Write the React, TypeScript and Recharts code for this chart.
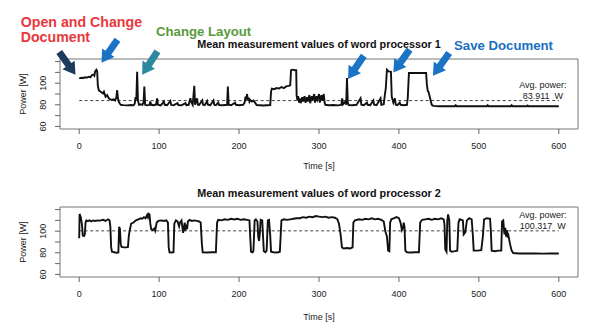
import React from "react";
import {
  LineChart,
  Line,
  XAxis,
  YAxis,
  ReferenceLine,
  ReferenceArea,
  ReferenceDot,
} from "recharts";

const FONT = '"Liberation Sans", Arial, Helvetica, sans-serif';

const xTicks = [0, 100, 200, 300, 400, 500, 600];
const yTicks = [60, 70, 80, 90, 100, 110, 120];
const yLabelled = [60, 80, 100];

// word processor 1
const wp1Time = [
  0, 3, 5, 8, 10, 12, 14, 16, 18, 19,
  20, 21.5, 22.5, 23.3, 24.5, 26, 28, 30, 31, 33,
  35, 37, 39, 41, 43, 45, 46.5, 47.5, 48.5, 49.5,
  51, 52, 55, 60, 65, 68, 69.5, 70.5, 71.5, 72.5,
  73.5, 74.8, 77, 79, 80.5, 81.5, 82.5, 85, 88, 89,
  90, 93, 96, 97.5, 98.5, 102, 106, 107, 110, 114,
  115, 118, 123, 124, 128, 133, 134, 137, 139, 140,
  142, 144, 145, 147.5, 148.5, 150, 154, 155, 157, 160,
  161, 164, 168, 169, 171, 174, 175, 180, 185, 186,
  187, 190, 195, 196, 200, 205, 207, 208, 209, 210,
  211, 212, 213, 214, 216, 218, 220, 222, 226, 230,
  235, 239, 240, 241, 244, 247, 250, 253, 256, 259,
  262, 264, 265, 267, 270, 271.5, 272, 273, 274, 275,
  276, 277, 279, 280, 282, 283, 285, 286, 288, 289,
  291, 292, 294, 295, 297, 298, 300, 301, 303, 304,
  306, 307, 308, 312, 318, 324, 328, 329, 330, 333,
  334, 335, 336, 337, 342, 347, 352, 353, 356, 360,
  361, 364, 368, 369, 372, 377, 378, 381, 382.5, 383.5,
  385, 387, 390, 391, 393, 395, 396, 398, 401, 402,
  406, 410, 411, 412.5, 420, 428, 434, 435, 436, 437,
  439, 441, 443, 450, 470, 471, 472, 510, 511, 512,
  540, 541, 542, 560, 561, 562, 600,
];
const wp1Power = [
  104.5, 105, 104.8, 105.5, 105.2, 106, 105.5, 107.5, 108, 107,
  111, 112.5, 111, 98, 93.5, 92.5, 91.5, 90.5, 92, 87.5,
  89, 86, 85, 84.5, 85, 84, 87, 93.5, 86, 82.8,
  81, 80, 79.7, 79.5, 79.8, 79.5, 81, 87, 85, 110.5,
  84, 80, 80.5, 80, 82, 97, 80, 79.5, 80, 83,
  80, 79.6, 80, 86, 80, 79.5, 83, 80, 79.6, 83.5,
  80, 79.5, 81.5, 79.8, 79.5, 81.5, 79.7, 80, 86, 83,
  80, 97.5, 80, 86, 80, 79.8, 84, 80, 79.6, 83.5,
  80, 79.6, 84, 80, 79.6, 82, 79.8, 79.6, 80, 97,
  80, 79.6, 82, 80, 79.6, 80, 82, 87.5, 85, 90,
  84, 86.5, 83, 84.5, 83, 84, 82, 79.8, 79.6, 79.4,
  79.6, 79.8, 92, 95, 94.5, 95.5, 95, 96.5, 95.5, 97,
  97.5, 98, 112, 112.5, 112, 112, 89, 84, 88, 82,
  86, 81.5, 87, 83, 88, 82, 87, 83, 89, 81.5,
  88, 84, 90, 82, 88, 85, 90, 82, 89, 84,
  90, 82, 80, 79.6, 79.8, 79.5, 80, 86, 80.5, 83,
  80, 104.7, 82, 79.8, 79.6, 80, 86, 80, 79.6, 82,
  80, 79.6, 84, 80, 79.6, 86, 80, 80.5, 90, 95,
  112.5, 111, 110.5, 87.5, 82, 86, 80, 79.6, 82, 80,
  79.6, 80, 86, 109.5, 109.5, 109.4, 109.5, 98.4, 93, 92,
  86, 80, 79, 78.7, 78.7, 79.6, 78.7, 78.7, 79.6, 78.7,
  78.7, 79.6, 78.7, 78.7, 79.4, 78.7, 78.7,
];
const wp1Avg = 83.911;

// word processor 2
const wp2Time = [
  0, 0.5, 2, 3.5, 4.5, 6, 7, 8, 9, 10,
  11, 13, 15, 17, 20, 23, 26, 30, 33, 36,
  38, 39, 40, 41, 44, 47, 49, 50, 51, 52,
  53, 56, 59, 61, 62, 63, 65, 68, 71, 74,
  77, 79, 81, 83, 85, 86, 87, 88, 89, 90,
  92, 94, 95, 97, 99, 103, 106, 109, 111, 112,
  113, 116, 118, 119, 121, 123, 125, 126, 128, 130,
  131, 132, 133, 134, 135, 136, 138, 141, 144, 147,
  150, 152, 153.5, 154.5, 160, 166, 171, 172.5, 174, 178,
  182, 186, 190, 194, 198, 202, 206, 210, 213, 214,
  215, 217, 218, 219.5, 221, 223, 224, 225, 226, 227,
  229, 230, 231, 233, 234.5, 236, 237.5, 239, 240, 243,
  246, 249, 251, 252, 253, 256, 260, 264, 268, 272,
  276, 280, 284, 288, 292, 296, 300, 304, 308, 312,
  316, 320, 323, 325, 327, 328.7, 331, 335, 339, 342,
  343, 345, 350, 354, 358, 362, 366, 370, 374, 378,
  381, 383, 385, 386.5, 388, 389, 390.5, 394, 397, 400,
  402, 403.7, 405, 406, 407, 408, 410, 415, 420, 425,
  426.6, 429, 433, 437, 441, 445, 449, 453, 456, 457,
  458, 459.5, 460.5, 461.5, 463, 464, 466, 470, 473, 474.5,
  476, 480, 481, 483, 485, 488, 491, 492.5, 493.5, 498,
  503, 505, 506.5, 510, 514, 515, 516, 520, 524, 528,
  529, 530.5, 532, 533, 534, 535, 536, 537, 539, 541,
  543, 550, 560, 570, 580, 590, 600,
];
const wp2Power = [
  93.5, 116, 113, 106, 96, 95.5, 97, 108, 110, 109.5,
  109.5, 110, 109, 110, 109.5, 110, 109.8, 110.5, 109.5, 111,
  110, 104, 85, 81, 80.5, 80, 80.3, 104, 102, 88,
  85.5, 85, 85, 85.3, 95, 100, 107, 108, 110, 111,
  112, 111.5, 113, 112, 115, 113, 116, 115.5, 107, 102,
  101, 102.5, 100.5, 108, 109.5, 110, 109.5, 110, 108, 85,
  80.5, 80.3, 80.5, 107, 110, 109, 104.5, 108, 110, 98.5,
  103, 108, 100.5, 106, 102, 109, 110.5, 109.5, 110, 109.5,
  109, 108, 88, 80.5, 80.3, 80.5, 80.5, 108, 110.5, 110,
  111, 110.5, 111.5, 110.8, 111.5, 110.5, 111, 110.5, 110, 94,
  81, 80.5, 82, 110, 111, 109, 95, 91, 98, 110.5,
  110, 95, 81.5, 80.5, 82, 110, 110.5, 96, 81, 80.5,
  80.3, 80.5, 81, 95, 110, 111, 110.5, 111, 111.5, 112,
  112, 113, 112.5, 113.5, 113, 114, 113.5, 113, 113.5, 112.5,
  113, 112.5, 111, 107, 97, 85, 84, 84.5, 84, 85,
  108, 110, 111, 110.5, 111.5, 111, 112, 111, 111.5, 110.5,
  109, 100, 95, 82, 81.5, 108, 111, 112, 113, 112,
  108, 101, 103, 108, 104, 82, 80.5, 80.3, 80.5, 80.5,
  108, 110.5, 111, 111.5, 110.5, 111.5, 111, 112, 111, 106,
  83, 81, 110, 115.5, 110, 82, 81, 81.5, 82, 108,
  111, 110, 97, 99, 110, 112, 111, 96, 82, 82,
  82.5, 95, 111, 112, 111.5, 100, 82, 81.5, 82, 82,
  109, 110, 97, 103, 95, 101, 94, 96, 88, 82,
  79.8, 79.3, 79.3, 79.4, 79.2, 79.3, 79.3,
];
const wp2Avg = 100.317;

// annotation arrows on the first plot (tip in data units, tail direction in px)
const arrows = [
  { t: -4.6, w: 107.8, dx: -15, dy: -21, color: "#1d3a5f" },
  { t: 27.9, w: 119, dx: 16, dy: -23, color: "#1a73c4" },
  { t: 78.8, w: 107.8, dx: 15, dy: -23, color: "#2b8a9f" },
  { t: 336.3, w: 104, dx: 15, dy: -22, color: "#1a73c4" },
  { t: 393, w: 110, dx: 15, dy: -21, color: "#1a73c4" },
  { t: 442.5, w: 106.9, dx: 15, dy: -21, color: "#1a73c4" },
];

const BlockArrow = ({ cx, cy, color, dx, dy }) => {
  const len = Math.hypot(dx, dy);
  const ux = dx / len;
  const uy = dy / len;
  const px = -uy;
  const py = ux;
  const L = 28;
  const h = 12;
  const hw = 7.5;
  const sw = 3.5;
  const pt = (a, b) => `${cx + ux * a + px * b},${cy + uy * a + py * b}`;
  const points = [pt(0, 0), pt(h, hw), pt(h, sw), pt(L, sw), pt(L, -sw), pt(h, -sw), pt(h, -hw)].join(" ");
  return <polygon points={points} fill={color} />;
};

const YTick = ({ x, y, payload }) => {
  if (!yLabelled.includes(payload.value)) return <g />;
  const bx = x - 6.5;
  return (
    <text
      x={bx}
      y={y}
      transform={`rotate(-90 ${bx} ${y})`}
      textAnchor="middle"
      fontSize={9}
      fontFamily={FONT}
      fill="#222"
    >
      {payload.value}
    </text>
  );
};

const AvgLabel = ({ cx, cy, avg }) => (
  <g fontFamily={FONT} fontSize={9} fill="#222">
    <text x={cx} y={cy - 13} textAnchor="middle">
      Avg. power:
    </text>
    <text x={cx} y={cy - 2} textAnchor="middle" style={{ whiteSpace: "pre" }}>
      {`${avg}  W`}
    </text>
  </g>
);

const Panel = ({ top, times, power, avg, title, titleY, timeY, children }) => {
  const data = times.map((t, i) => ({ t, p: power[i] }));
  return (
    <div style={{ position: "absolute", left: 0, top, width: 600, height: 175 }}>
      <LineChart
        width={600}
        height={170}
        data={data}
        margin={{ top: 59, right: 22, left: 0, bottom: 0 }}
      >
        <XAxis
          dataKey="t"
          type="number"
          domain={[-24, 624]}
          ticks={xTicks}
          interval={0}
          axisLine={false}
          tickLine={{ stroke: "#666" }}
          tickSize={5}
          tickMargin={9}
          height={41}
          tick={{ fontSize: 9, fill: "#222", fontFamily: FONT }}
        />
        <YAxis
          type="number"
          domain={[57.6, 122.4]}
          ticks={yTicks}
          interval={0}
          axisLine={false}
          tickLine={{ stroke: "#666" }}
          tickSize={5}
          width={60}
          tick={(p) => <YTick {...p} />}
        />
        <ReferenceArea
          x1={-24}
          x2={624}
          y1={57.6}
          y2={122.4}
          fill="none"
          stroke="#777"
          strokeWidth={1}
          ifOverflow="visible"
        />
        <ReferenceLine
          segment={[
            { x: 0, y: avg },
            { x: 600, y: avg },
          ]}
          stroke="#444"
          strokeDasharray="3 2.5"
        />
        <Line
          type="linear"
          dataKey="p"
          stroke="#111"
          strokeWidth={1.9}
          dot={false}
          isAnimationActive={false}
        />
        <ReferenceDot x={580} y={avg} r={0} shape={(p) => <AvgLabel cx={p.cx} cy={p.cy} avg={avg} />} />
        {children}
      </LineChart>
      <svg
        width={600}
        height={175}
        style={{ position: "absolute", left: 0, top: 0, pointerEvents: "none" }}
      >
        <text x={319} y={titleY} textAnchor="middle" fontFamily={FONT} fontWeight="bold" fontSize={10.8} fill="#111">
          {title}
        </text>
        <text
          x={25.5}
          y={94}
          transform="rotate(-90 25.5 94)"
          textAnchor="middle"
          fontFamily={FONT}
          fontSize={9}
          fill="#222"
        >
          Power [W]
        </text>
        <text x={319} y={timeY} textAnchor="middle" fontFamily={FONT} fontSize={9} fill="#222">
          Time [s]
        </text>
      </svg>
    </div>
  );
};

export default function App() {
  return (
    <div style={{ position: "absolute", left: 0, top: 0, width: 600, height: 336, background: "#fff" }}>
      <Panel
        top={0}
        times={wp1Time}
        power={wp1Power}
        avg={wp1Avg}
        title="Mean measurement values of word processor 1"
        titleY={47.7}
        timeY={169}
      >
        {arrows.map((a, i) => (
          <ReferenceDot
            key={i}
            x={a.t}
            y={a.w}
            r={0}
            ifOverflow="visible"
            shape={(p) => <BlockArrow cx={p.cx} cy={p.cy} color={a.color} dx={a.dx} dy={a.dy} />}
          />
        ))}
      </Panel>
      <Panel
        top={148.3}
        times={wp2Time}
        power={wp2Power}
        avg={wp2Avg}
        title="Mean measurement values of word processor 2"
        titleY={49}
        timeY={171.5}
      />
      <svg
        width={600}
        height={60}
        style={{ position: "absolute", left: 0, top: 0, pointerEvents: "none" }}
        fontFamily={FONT}
        fontWeight="bold"
      >
        <text x={20.7} y={27.3} fontSize={14.2} fill="#e8383d">
          Open and Change
        </text>
        <text x={20.7} y={42} fontSize={14.2} fill="#e8383d">
          Document
        </text>
        <text x={156} y={35.7} fontSize={13.2} fill="#5b9a3c">
          Change Layout
        </text>
        <text x={454} y={50} fontSize={13.2} fill="#1a6fc1">
          Save Document
        </text>
      </svg>
    </div>
  );
}
